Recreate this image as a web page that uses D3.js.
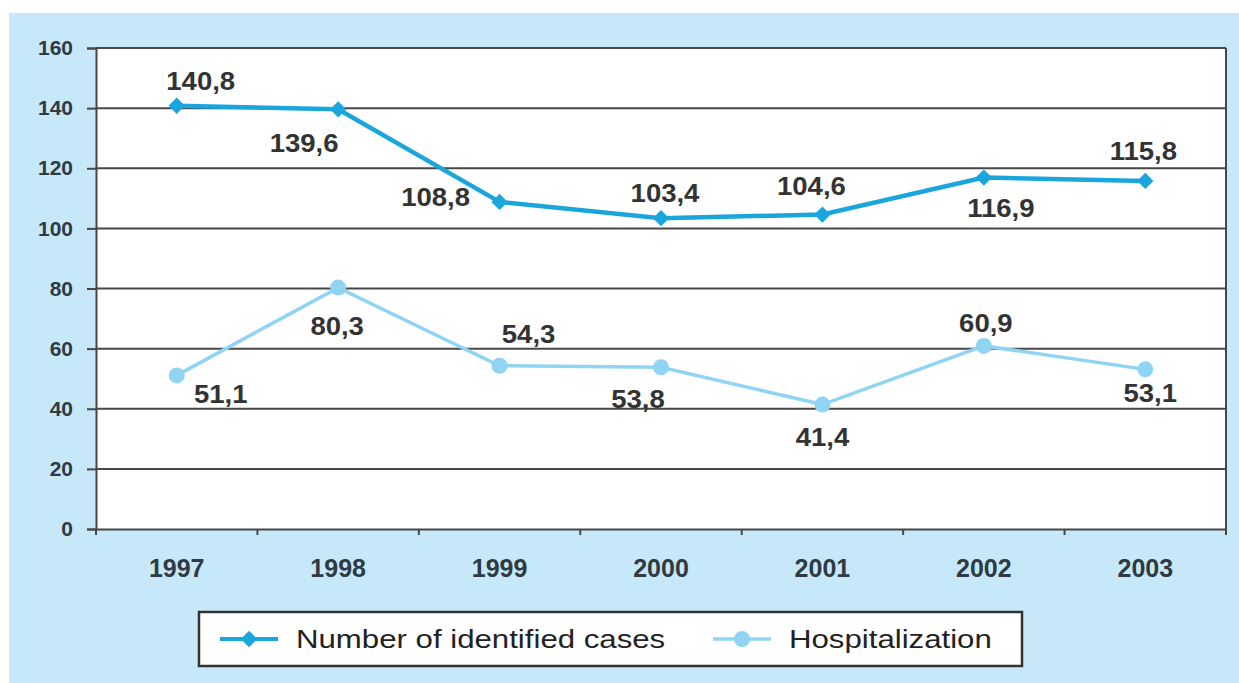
<!DOCTYPE html>
<html>
<head>
<meta charset="utf-8">
<script src="https://d3js.org/d3.v7.min.js"></script>
<style>
  body { margin: 0; background: #fff; }
  text { font-family: "Liberation Sans", Arial, sans-serif; }
</style>
<title>Identified cases and hospitalization</title>
</head>
<body>
<svg width="1239" height="683"></svg>
<script>
// data
var years = ["1997", "1998", "1999", "2000", "2001", "2002", "2003"];
var cases = [140.8, 139.6, 108.8, 103.4, 104.6, 116.9, 115.8];
var hospital = [51.1, 80.3, 54.3, 53.8, 41.4, 60.9, 53.1];
var yTicks = [0, 20, 40, 60, 80, 100, 120, 140, 160];
var seriesNames = ["Number of identified cases", "Hospitalization"];

// label offsets (px) relative to each point
var casesOff = [[24, -25], [-34, 34], [-64, -5], [4, -25], [-11, -29], [17, 30], [-2, -30]];
var hospOff = [[44, 19], [-1, 38], [29, -32], [-23, 32], [0, 32], [2, -23], [5, 24]];

var svg = d3.select("svg");
var colCases = "#1ba5dd", colHosp = "#8fd4f2", axisCol = "#474747";

svg.append("rect").attr("x", 9).attr("y", 13).attr("width", 1230).attr("height", 670)
   .attr("fill", "#c6e8f8");

var pLeft = 96, pRight = 1226, pTop = 48, pBottom = 529;
var x = d3.scaleBand().domain(years).range([pLeft, pRight]);
var y = d3.scaleLinear().domain([0, 160]).range([pBottom, pTop]);

svg.append("rect").attr("x", pLeft).attr("y", pTop).attr("width", pRight - pLeft)
   .attr("height", pBottom - pTop).attr("fill", "#fff");

// grid
svg.append("g").selectAll("line").data(yTicks.filter(function(d) { return d > 0; }))
   .join("line")
   .attr("x1", pLeft).attr("x2", pRight)
   .attr("y1", function(d) { return y(d); }).attr("y2", function(d) { return y(d); })
   .attr("stroke", axisCol).attr("stroke-width", 2);

svg.append("line").attr("x1", pRight).attr("x2", pRight).attr("y1", pTop).attr("y2", pBottom)
   .attr("stroke", axisCol).attr("stroke-width", 2);

// axes
var yAxis = svg.append("g").attr("transform", "translate(" + pLeft + ",0)")
   .call(d3.axisLeft(y).tickValues(yTicks).tickSize(9).tickPadding(14));
var xAxis = svg.append("g").attr("transform", "translate(0," + pBottom + ")")
   .call(d3.axisBottom(x).tickSize(0).tickPadding(30));
xAxis.selectAll(".tick-sep").data(d3.range(years.length + 1)).join("line")
   .attr("x1", function(i) { return pLeft + i * x.bandwidth(); })
   .attr("x2", function(i) { return pLeft + i * x.bandwidth(); })
   .attr("y1", 0).attr("y2", 6).attr("stroke", axisCol).attr("stroke-width", 2);

[yAxis, xAxis].forEach(function(a) {
  a.select(".domain").attr("stroke", axisCol).attr("stroke-width", 2);
  a.selectAll(".tick line").attr("stroke", axisCol).attr("stroke-width", 2);
  a.selectAll(".tick text").attr("font-weight", "bold")
   .attr("fill", "#2f3a44").attr("font-family", "Liberation Sans, Arial, sans-serif");
});
yAxis.selectAll(".tick text").attr("font-size", 21);
xAxis.selectAll(".tick text").attr("font-size", 25);

function cx(i) { return x(years[i]) + x.bandwidth() / 2; }

var line = d3.line().x(function(d, i) { return cx(i); }).y(function(d) { return y(d); });

svg.append("path").datum(hospital).attr("d", line).attr("fill", "none")
   .attr("stroke", colHosp).attr("stroke-width", 3.5);
svg.append("g").selectAll("circle").data(hospital).join("circle")
   .attr("cx", function(d, i) { return cx(i); }).attr("cy", function(d) { return y(d); })
   .attr("r", 8).attr("fill", colHosp);

svg.append("path").datum(cases).attr("d", line).attr("fill", "none")
   .attr("stroke", colCases).attr("stroke-width", 4.5);
var diamond = d3.symbol().type(d3.symbolDiamond2 || d3.symbolDiamond).size(170);
svg.append("g").selectAll("path").data(cases).join("path")
   .attr("d", diamond)
   .attr("transform", function(d, i) { return "translate(" + cx(i) + "," + y(d) + ")"; })
   .attr("fill", colCases);

function labels(vals, offs) {
  svg.append("g").selectAll("text").data(vals).join("text")
     .attr("transform", function(d, i) {
       return "translate(" + (cx(i) + offs[i][0]) + "," + (y(d) + offs[i][1]) + ") scale(1.1,1)";
     })
     .attr("dy", "0.36em").attr("text-anchor", "middle")
     .attr("font-size", 25).attr("font-weight", "bold").attr("fill", "#333")
     .text(function(d) { return d3.format(".1f")(d).replace(".", ","); });
}
labels(cases, casesOff);
labels(hospital, hospOff);

// legend
var lg = svg.append("g");
lg.append("rect").attr("x", 199).attr("y", 612).attr("width", 823).attr("height", 54)
  .attr("fill", "#fff").attr("stroke", "#333").attr("stroke-width", 2.5);
var items = [
  { x: 220, color: colCases, shape: "d", w: 4 },
  { x: 713, color: colHosp, shape: "c", w: 3.5 }
];
items.forEach(function(it, k) {
  lg.append("line").attr("x1", it.x).attr("x2", it.x + 58).attr("y1", 639).attr("y2", 639)
    .attr("stroke", it.color).attr("stroke-width", it.w);
  if (it.shape === "d") {
    lg.append("path").attr("d", diamond).attr("transform", "translate(" + (it.x + 29) + ",639)")
      .attr("fill", it.color);
  } else {
    lg.append("circle").attr("cx", it.x + 29).attr("cy", 639).attr("r", 8).attr("fill", it.color);
  }
  lg.append("text").attr("transform", "translate(" + (it.x + 76) + ",639) scale(1.2,1)")
    .attr("dy", "0.36em").attr("font-weight", 500)
    .attr("font-size", 26).attr("fill", "#222").text(seriesNames[k]);
});
</script>
</body>
</html>
